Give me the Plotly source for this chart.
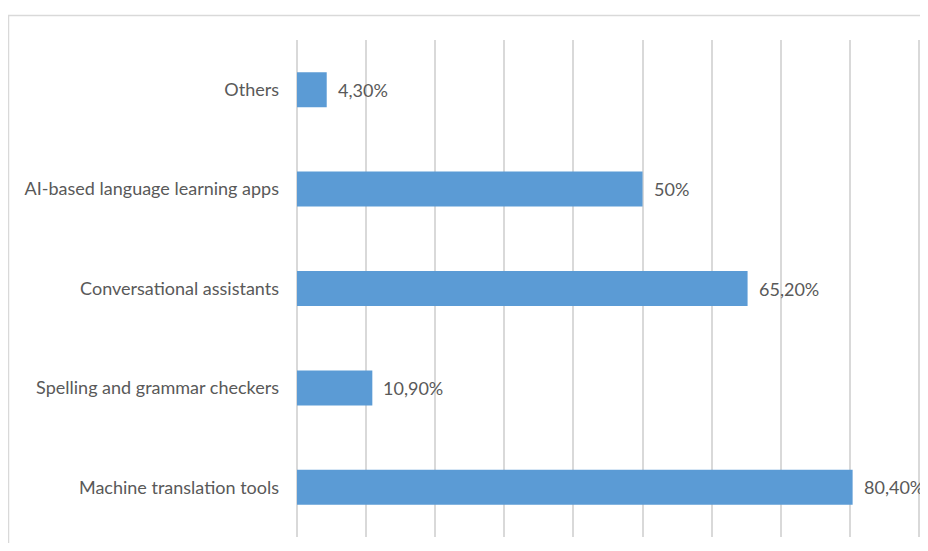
import plotly.graph_objects as go

categories = [
    "Machine translation tools",
    "Spelling and grammar checkers",
    "Conversational assistants",
    "AI-based language learning apps",
    "Others",
]
values = [0.804, 0.109, 0.652, 0.50, 0.043]
value_labels = ["80,40%", "10,90%", "65,20%", "50%", "4,30%"]

FONT = "Lato"
GREY = "#595959"
FS = 18

# page body has an 8px margin: figure origin sits at (8, 8) in the window
OFF = 8
L, T = 297 - OFF, 40 - OFF
W, H = 928 - OFF, 551 - 2 * OFF
PW = 920 - 297
PH = 537 - 40

fig = go.Figure()
fig.add_trace(go.Bar(
    x=values,
    y=categories,
    orientation="h",
    marker=dict(color="#5B9BD5", line=dict(width=0)),
    hoverinfo="skip",
))

for v, c, t in zip(values, categories, value_labels):
    fig.add_annotation(
        x=v, y=c, text=t, showarrow=False, xanchor="left", xshift=9,
        font=dict(family=FONT, size=FS, color=GREY),
    )

fig.add_shape(
    type="rect", xref="paper", yref="paper",
    x0=(8.5 - 297) / PW, x1=(940 - 297) / PW,
    y0=(537 - 570) / PH, y1=1 + (40 - 15.5) / PH,
    line=dict(color="#D9D9D9", width=1.5), fillcolor="rgba(0,0,0,0)",
    layer="below",
)

fig.update_layout(
    width=W, height=H,
    margin=dict(l=L, r=W - (920 - OFF), t=T, b=H - (537 - OFF)),
    paper_bgcolor="white", plot_bgcolor="white",
    bargap=0.648,
    showlegend=False,
    xaxis=dict(
        range=[0, 0.9015], dtick=0.1, showticklabels=False,
        showgrid=True, gridcolor="#D9D9D9", gridwidth=1.5,
        zeroline=True, zerolinecolor="#D9D9D9", zerolinewidth=1.5,
        showline=False, fixedrange=True,
    ),
    yaxis=dict(
        showgrid=False, zeroline=False, showline=False,
        ticks="", ticklabelstandoff=17,
        tickfont=dict(family=FONT, size=FS, color=GREY),
        fixedrange=True,
    ),
)

fig.write_html("out.html")
